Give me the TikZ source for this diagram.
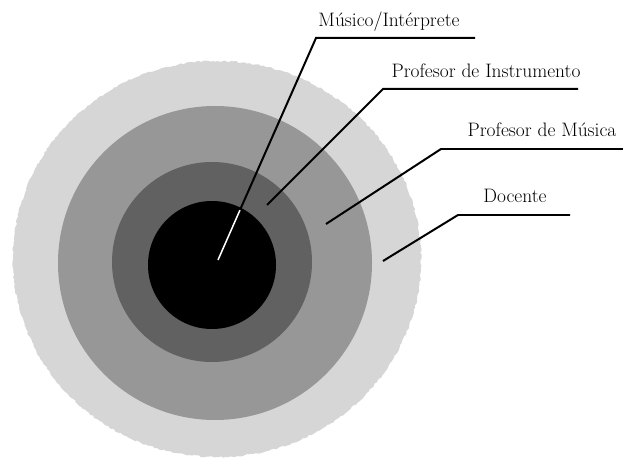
\documentclass[tikz,border=0pt]{standalone}
\usepackage{tikz}
\usetikzlibrary{calc,positioning,decorations.pathmorphing}
\definecolor{ringfour}{RGB}{214,214,214}
\definecolor{ringthree}{RGB}{151,151,151}
\definecolor{ringtwo}{RGB}{97,97,97}

\begin{document}
\begin{tikzpicture}[
        x=0.03cm,y=-0.03cm,
        ring/.style={circle,inner sep=0pt,draw=none},
        lead/.style={black,line width=1.7pt},
        lbl/.style={anchor=base,inner sep=0pt,font=\fontsize{16.6}{20}\selectfont},
      ]
        \useasboundingbox (0,0) rectangle (623,461);
        % rings, outside in
        \fill[ringfour,decorate,decoration={random steps,segment length=2pt,amplitude=0.7pt}]
          (217,259) ellipse [x radius=204,y radius=198];
        \node[ring,fill=ringthree,minimum size=314*0.03cm] (profmus) at (215,263) {};
        \node[ring,fill=ringtwo,minimum size=200*0.03cm] (profins) at (212,262) {};
        \node[ring,fill=black,minimum size=128*0.03cm] (musico) at (212,265) {};
        % leader points
        \coordinate (m0) at (218,260);
        \coordinate (m1) at (240,210);
        \coordinate (m2) at (316,38);
        \coordinate (m3) at (475,38);
        \coordinate (i0) at (267,205);
        \coordinate (i1) at (383,89);
        \coordinate (i2) at (578,89);
        \coordinate (p0) at (326,224);
        \coordinate (p1) at (441,149);
        \coordinate (p2) at (623,149);
        \coordinate (d0) at (383,261);
        \coordinate (d1) at (458,215);
        \coordinate (d2) at (570,215);
        % labels
        \node[lbl] (tmusico) at (389,27) {Músico/Intérprete};
        \node[lbl] (tprofins) at (486,78) {Profesor de Instrumento};
        \node[lbl] (tprofmus) at (542,137) {Profesor de Música};
        \node[lbl] (tdocente) at (515,203) {Docente};
        % leaders
        \draw[lead,white,line width=1.3pt](m0)--(m1);
        \draw[lead](m1)--(m2)--(m3);
        \draw[lead](i0)--(i1)--(i2);
        \draw[lead](p0)--(p1)--(p2);
        \draw[lead](d0)--(d1)--(d2);
      \end{tikzpicture}
\end{document}
